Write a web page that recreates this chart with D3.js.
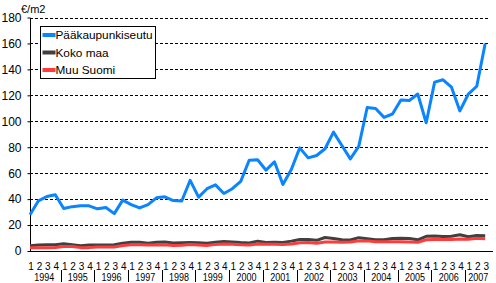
<!DOCTYPE html>
<html>
<head>
<meta charset="utf-8">
<script src="https://cdn.jsdelivr.net/npm/d3@7"></script>
<style>
  body { margin: 0; background: #fff; }
  svg { display: block; font-family: "Liberation Sans", Arial, sans-serif; }
</style>
</head>
<body>
<svg width="496" height="283"></svg>
<script>
// years and quarters 1994 Q1 .. 2007 Q3
var years = ["1994","1995","1996","1997","1998","1999","2000","2001","2002","2003","2004","2005","2006","2007"];
var quarters = ["1","2","3","4"];

var paakaupunkiseutu = [28, 38.7, 42, 43.3, 32.7, 34.2, 34.8, 34.8, 32.5, 33.5, 28.8, 39.2,
  35.8, 33.2, 35.8, 41, 41.8, 38.9, 38.5, 54.5, 41.5, 48, 51, 44.3,
  48, 53.7, 70, 70.3, 62.3, 68.8, 51.3, 62.8, 79.5, 71.8, 73.6, 78.8,
  91.6, 81.3, 71, 80.7, 110.6, 109.8, 103, 105.6, 116.4, 116, 121, 98.9,
  130.2, 132, 126.3, 108, 121, 127, 160];

var kokoMaa = [4.1, 4.6, 4.8, 4.9, 5.6, 4.9, 4.1, 4.6, 4.7, 4.7, 4.8, 6.0,
  6.8, 6.8, 6.0, 6.8, 6.9, 6.2, 6.4, 6.6, 6.3, 6.0, 6.8, 7.4,
  7.0, 6.5, 6.2, 7.6, 6.6, 6.8, 6.6, 7.6, 8.8, 8.9, 8.2, 10.4,
  9.6, 8.7, 8.5, 10.3, 9.5, 8.6, 8.7, 9.7, 9.8, 9.7, 8.6, 11.3,
  11.5, 11.2, 11.4, 12.5, 11.0, 11.9, 11.7];

var muuSuomi = [2.6, 2.6, 2.6, 2.7, 3.5, 3.4, 2.6, 2.6, 3.1, 3.1, 3.1, 4.2,
  4.9, 4.9, 4.6, 4.7, 4.8, 4.3, 4.5, 5.0, 4.7, 4.2, 5.1, 5.4,
  5.2, 4.8, 4.6, 5.4, 5.2, 5.2, 5.0, 5.4, 6.4, 6.5, 5.9, 7.0,
  7.0, 6.8, 6.9, 7.8, 7.8, 7.1, 7.1, 7.2, 7.2, 7.0, 6.7, 8.7,
  8.9, 8.9, 8.8, 9.2, 9.0, 9.8, 9.5];

var seriesNames = ["Pääkaupunkiseutu", "Koko maa", "Muu Suomi"];
var seriesColors = ["#0a84ff", "#404040", "#ff3b3b"];
var yTicks = [0, 20, 40, 60, 80, 100, 120, 140, 160, 180];

var svg = d3.select("svg");

// list of periods
var periods = [];
years.forEach(function(yr) {
  quarters.forEach(function(q) {
    if (periods.length < paakaupunkiseutu.length) periods.push({year: yr, q: q, key: yr + "-" + q});
  });
});

var plotLeft = 30, plotRight = 490, plotTop = 17.5, plotBottom = 251;

var x = d3.scalePoint()
  .domain(periods.map(function(d) { return d.key; }))
  .range([plotLeft, 485.2]);

var y = d3.scaleLinear()
  .domain([0, 180])
  .range([plotBottom, plotTop]);

// grid
svg.append("g")
  .selectAll("line")
  .data(yTicks.filter(function(t) { return t > 0; }))
  .enter().append("line")
  .attr("x1", plotLeft).attr("x2", plotRight)
  .attr("y1", function(d) { return Math.round(y(d)) + 0.5; })
  .attr("y2", function(d) { return Math.round(y(d)) + 0.5; })
  .attr("stroke", "#000")
  .attr("stroke-dasharray", "3,2");

// y axis
var yAxis = svg.append("g")
  .attr("transform", "translate(" + (plotLeft + 0.5) + ",0)")
  .call(d3.axisLeft(y).tickValues(yTicks).tickSize(3).tickPadding(6));
yAxis.select(".domain").attr("d", "M0," + Math.round(y(180)) + "V" + Math.round(y(0)));
yAxis.selectAll("text").attr("font-size", "12px").attr("fill", "#000").attr("font-family", null);

// x axis line
svg.append("line")
  .attr("x1", plotLeft).attr("x2", 493)
  .attr("y1", plotBottom + 0.5).attr("y2", plotBottom + 0.5)
  .attr("stroke", "#000");

// quarter labels
svg.append("g")
  .selectAll("text")
  .data(periods)
  .enter().append("text")
  .attr("x", function(d) { return x(d.key) + 1; })
  .attr("y", 270)
  .attr("text-anchor", "middle")
  .attr("font-size", "10px")
  .text(function(d) { return d.q; });

// year labels
svg.append("g")
  .selectAll("text")
  .data(years)
  .enter().append("text")
  .attr("x", function(yr) {
    var ks = periods.filter(function(p) { return p.year === yr; }).map(function(p) { return x(p.key); });
    return d3.mean(ks) + 1.5;
  })
  .attr("y", 281)
  .attr("text-anchor", "middle")
  .attr("font-size", "10px")
  .attr("textLength", 20)
  .attr("lengthAdjust", "spacingAndGlyphs")
  .text(function(d) { return d; });

// year separators
var step = x.step();
svg.append("g")
  .selectAll("line")
  .data(years.slice(1))
  .enter().append("line")
  .attr("x1", function(yr) { return Math.round(x(yr + "-1") - step / 2) + 1.5; })
  .attr("x2", function(yr) { return Math.round(x(yr + "-1") - step / 2) + 1.5; })
  .attr("y1", 270).attr("y2", 282)
  .attr("stroke", "#000");

// lines
var allSeries = [paakaupunkiseutu, kokoMaa, muuSuomi];
var line = d3.line()
  .x(function(d, i) { return x(periods[i].key); })
  .y(function(d) { return y(d); });

allSeries.forEach(function(s, k) {
  svg.append("path")
    .datum(s)
    .attr("fill", "none")
    .attr("stroke", seriesColors[k])
    .attr("stroke-width", 3)
    .attr("stroke-linejoin", "round")
    .attr("d", line);
});

// legend
var legend = svg.append("g").attr("transform", "translate(40.5,26.5)");
legend.append("rect")
  .attr("width", 115).attr("height", 52)
  .attr("fill", "#fff").attr("stroke", "#000");
var item = legend.selectAll(".item")
  .data(seriesNames)
  .enter().append("g")
  .attr("transform", function(d, i) { return "translate(0," + (8.5 + i * 17.5) + ")"; });
item.append("line")
  .attr("x1", 2).attr("x2", 15)
  .attr("stroke", function(d, i) { return seriesColors[i]; })
  .attr("stroke-width", 4);
item.append("text")
  .attr("x", 15)
  .attr("y", 4)
  .attr("font-size", "11.8px")
  .text(function(d) { return d; });

// unit
svg.append("text")
  .attr("x", 21).attr("y", 13)
  .attr("font-size", "11px")
  .text("€/m2");
</script>
</body>
</html>
